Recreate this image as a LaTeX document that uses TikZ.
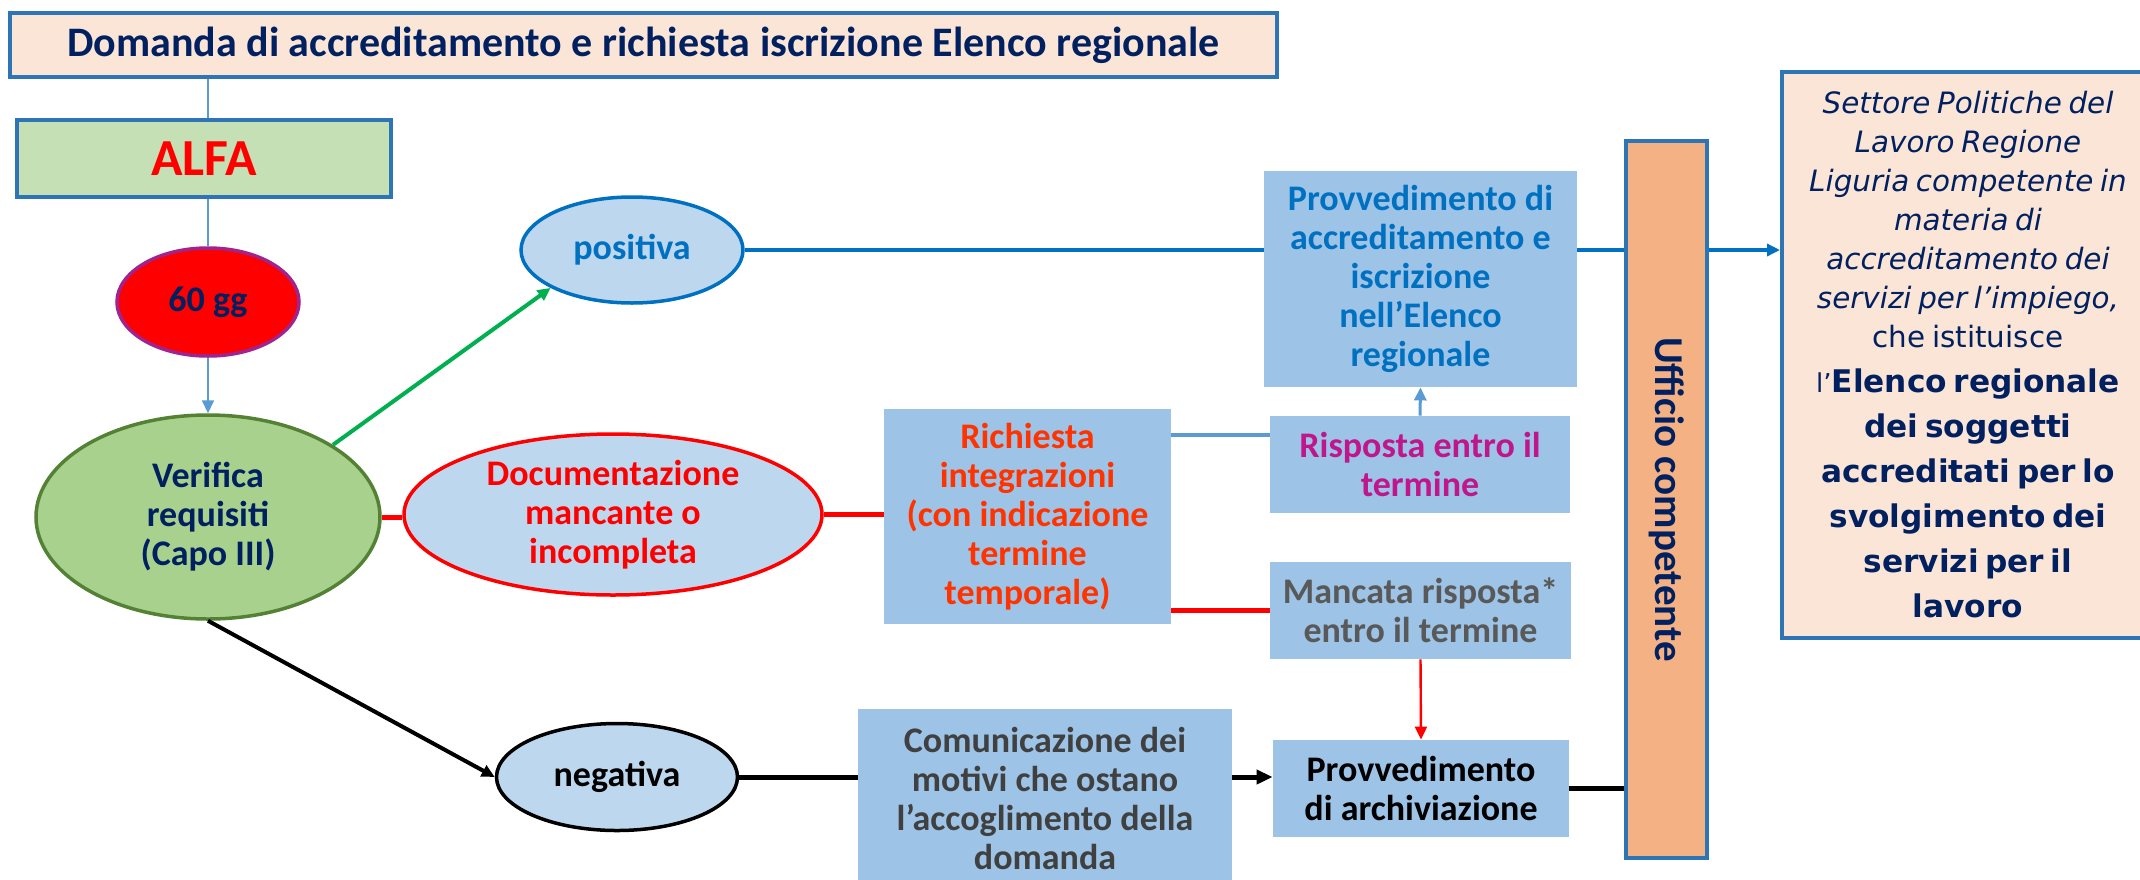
\documentclass[tikz,border=0pt]{standalone}
\usepackage{fontspec}
\usepackage{graphicx}
\setmainfont{Carlito}
\newfontfamily\verd{DejaVu Sans}
\usetikzlibrary{arrows.meta,shapes.geometric}
\definecolor{navy}{HTML}{002060}
\definecolor{bord}{HTML}{2E75B6}
\definecolor{peach}{HTML}{FBE5D6}
\definecolor{alfagreen}{HTML}{C5E0B4}
\definecolor{vergreen}{HTML}{A9D18E}
\definecolor{verborder}{HTML}{548235}
\definecolor{ellfill}{HTML}{BDD7EE}
\definecolor{boxfill}{HTML}{9DC3E6}
\definecolor{lblue}{HTML}{5B9BD5}
\definecolor{dblue}{HTML}{0070C0}
\definecolor{uffill}{HTML}{F4B183}
\definecolor{ggborder}{HTML}{A0248C}
\definecolor{magtext}{HTML}{C0168C}
\definecolor{orangered}{HTML}{FF3300}
\definecolor{greytext}{HTML}{595959}
\definecolor{dgreytext}{HTML}{404040}
\definecolor{arrowgreen}{HTML}{00B050}
\begin{document}
\begin{tikzpicture}[x=0.5pt,y=-0.5pt,
  txt/.style={font=\fontsize{18}{19.5}\selectfont\bfseries, align=center, inner sep=0pt},
  rbox/.style={txt, rectangle, fill=boxfill},
  ell/.style={txt, ellipse, line width=1.75pt},
  frame/.style={rectangle, draw=bord, line width=2pt, inner sep=0pt},
  tipS/.style={-{Triangle[length=6.5pt,width=6pt]}},
  tipL/.style={-{Triangle[length=8pt,width=7pt]}}]
\useasboundingbox (0,0) rectangle (2140,879);

% nodes
\node[frame, fill=peach, minimum width=633.5pt, minimum height=32pt,
      font=\fontsize{21}{24}\selectfont\bfseries, text=navy] (dom) at (643.5,45)
      {Domanda di accreditamento e richiesta iscrizione Elenco regionale};
\node[frame, fill=alfagreen, minimum width=187pt, minimum height=38.5pt,
      font=\fontsize{26}{30}\selectfont\bfseries, text=red] (alfa) at (204,158.5) {ALFA};
\node[ell, draw=ggborder, fill=red, text=navy, minimum width=91pt, minimum height=54pt] (gg) at (208,302) {60 gg};
\node[ell, draw=verborder, fill=vergreen, text=navy, minimum width=172pt, minimum height=102pt] (ver) at (208,517) {Verifica\\requisiti\\(Capo III)};
\node[ell, draw=dblue, fill=ellfill, text=dblue, minimum width=111pt, minimum height=53pt] (pos) at (632,250) {positiva};
\node[ell, draw=red, fill=ellfill, text=red, minimum width=209pt, minimum height=80.5pt] (doc) at (613,514.5) {Documentazione\\mancante o\\incompleta};
\node[ell, draw=black, fill=ellfill, text=black, minimum width=120.5pt, minimum height=53.5pt] (neg) at (617,777) {negativa};

\node[rbox, text=orangered, minimum width=143.5pt, minimum height=107.5pt] (ric) at (1027.5,516.5) {Richiesta\\integrazioni\\(con indicazione\\termine\\temporale)};
\node[rbox, text=dblue, minimum width=156.5pt, minimum height=108pt] (prov) at (1420.5,279) {Provvedimento di\\accreditamento e\\iscrizione\\nell’Elenco\\regionale};
\node[rbox, text=magtext, minimum width=150pt, minimum height=48.5pt] (risp) at (1420,464.5) {Risposta entro il\\termine};
\node[rbox, text=greytext, minimum width=150.5pt, minimum height=48.5pt] (man) at (1420.5,610.5) {Mancata risposta*\\entro il termine};
\node[rbox, text=black, minimum width=148pt, minimum height=48.5pt] (parch) at (1421,788.5) {Provvedimento\\di archiviazione};
\node[rbox, text=dgreytext, minimum width=187pt, minimum height=89pt] (com) at (1045,798) {Comunicazione dei\\motivi che ostano\\l’accoglimento della\\domanda};

\node[frame, fill=uffill, minimum width=40.5pt, minimum height=358.5pt, text=navy] (uff) at (1666.5,499.5)
      {\rotatebox{-90}{\fontsize{20.5}{24}\selectfont\bfseries Ufficio competente}};

\node[frame, fill=peach, minimum width=186pt, minimum height=283pt, text=navy,
      text width=180pt, align=center] (set) at (1968,355) {%
{\verd\itshape\fontsize{14.7}{19.5}\selectfont Settore Politiche del\\Lavoro Regione\\Liguria competente in\\materia di\\accreditamento dei\\servizi per l’impiego,\par}%
{\verd\fontsize{14.7}{19.5}\selectfont che istituisce\par}%
{\verd\bfseries\fontsize{15.6}{22.5}\selectfont{\mdseries\fontsize{13}{22.5}\selectfont l’}Elenco regionale\\dei soggetti\\accreditati per lo\\svolgimento dei\\servizi per il\\lavoro\par}};

% connectors
\draw[lblue, line width=1pt] (gg.north |- alfa.north) -- (gg.north |- dom.south);
\draw[lblue, line width=1pt] (gg.north |- alfa.south) -- (gg.north);
\draw[lblue, line width=1pt, tipS] (gg.south) -- (ver.north);
\draw[arrowgreen, line width=2pt, tipS] (ver.30) -- (pos.205);
\draw[red, line width=2.5pt] (ver.east) -- (ver.east -| doc.west);
\draw[red, line width=2.5pt] (doc.east) -- (doc.east -| ric.west);
\draw[lblue, line width=2pt] ([yshift=14.75pt]risp.west) -- ([yshift=14.75pt]risp.west -| ric.east);
\draw[lblue, line width=1.5pt, tipS] (risp.north) -- (prov.south);
\draw[red, line width=2.5pt] (man.west) -- (man.west -| ric.east);
\draw[red, line width=1.2pt, tipS] (man.south) -- (parch.north);
\draw[black, line width=2pt, tipS] (ver.south) -- (neg.west);
\draw[black, line width=2.5pt] (neg.east) -- (neg.east -| com.west);
\draw[black, line width=2.5pt, tipL] (com.east |- neg.east) -- (parch.west |- neg.east);
\draw[black, line width=2.5pt] (parch.east) -- (parch.east -| uff.west);
\draw[dblue, line width=2pt] (pos.east) -- (pos.east -| prov.west);
\draw[dblue, line width=2pt] (prov.east |- pos.east) -- (uff.west |- pos.east);
\draw[dblue, line width=2pt, tipS] (uff.east |- pos.east) -- (set.west |- pos.east);
\end{tikzpicture}
\end{document}
